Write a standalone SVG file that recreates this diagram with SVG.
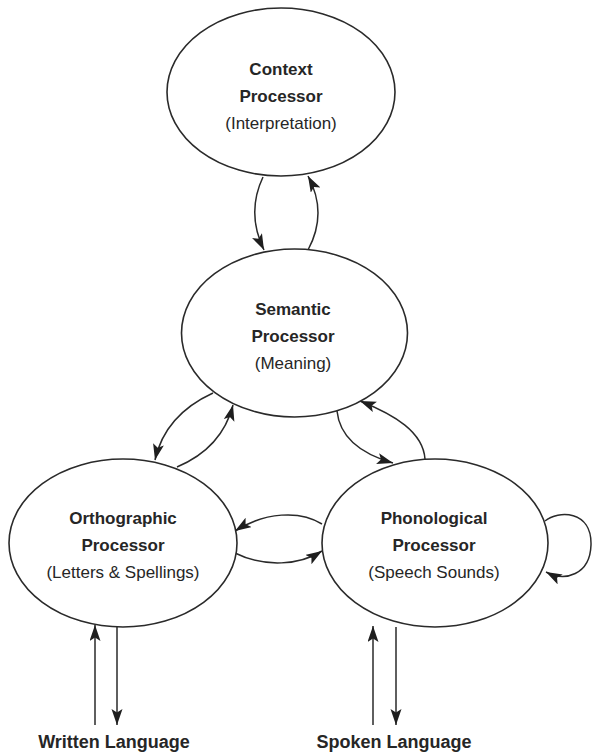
<svg xmlns="http://www.w3.org/2000/svg" width="592" height="756" viewBox="0 0 592 756">
<style>
.node{fill:#fff;stroke:#2a2a2a;stroke-width:1.6}
.t{font-family:"Liberation Sans",Arial,sans-serif;font-size:17px;fill:#262626;text-anchor:middle}
.b{font-weight:bold}
.lbl{font-family:"Liberation Sans",Arial,sans-serif;font-size:18px;font-weight:bold;fill:#262626;text-anchor:middle}
.c{fill:none;stroke:#2a2a2a;stroke-width:1.5;marker-end:url(#ah)}
</style>
<defs>
<marker id="ah" markerUnits="userSpaceOnUse" markerWidth="18" markerHeight="12" refX="16" refY="5.5" orient="auto">
<path d="M0,0 L16,5.5 L0,11 L3.5,5.5 z" fill="#1e1e1e"/>
</marker>
</defs>
<rect width="592" height="756" fill="#fff"/>
<g id="connectors">
<path class="c" d="M263,177 Q246,213 264,250"/>
<path class="c" d="M308,250 Q328,213 308,176"/>
<path class="c" d="M213,393 Q165,415 155,460"/>
<path class="c" d="M177,467 Q222,448 233,405"/>
<path class="c" d="M337,411 C340,440 365,455 393,463"/>
<path class="c" d="M425,459 C423,432 395,415 360,401"/>
<path class="c" d="M322,524 C300,510 265,512 235,531"/>
<path class="c" d="M235,553 C265,568 300,565 322,551"/>
<path class="c" d="M545,521 C558,510 592,510 591,545 C590,575 565,582 546,572"/>
<path class="c" d="M95,725 L95,625"/>
<path class="c" d="M117,627 L117,725"/>
<path class="c" d="M373,725 L373,626"/>
<path class="c" d="M396,627 L396,725"/>
</g>
<g id="context">
<ellipse class="node" cx="281" cy="92" rx="114" ry="84"/>
<text class="t b" x="281" y="75">Context</text>
<text class="t b" x="281" y="102">Processor</text>
<text class="t" x="281" y="129">(Interpretation)</text>
</g>
<g id="semantic">
<ellipse class="node" cx="294.5" cy="333" rx="113" ry="84"/>
<text class="t b" x="293" y="315">Semantic</text>
<text class="t b" x="293" y="342">Processor</text>
<text class="t" x="293" y="369">(Meaning)</text>
</g>
<g id="orthographic">
<ellipse class="node" cx="123" cy="543" rx="114" ry="84"/>
<text class="t b" x="123" y="524">Orthographic</text>
<text class="t b" x="123" y="551">Processor</text>
<text class="t" x="123" y="578">(Letters &amp; Spellings)</text>
</g>
<g id="phonological">
<ellipse class="node" cx="435" cy="543" rx="113" ry="84"/>
<text class="t b" x="434" y="524">Phonological</text>
<text class="t b" x="434" y="551">Processor</text>
<text class="t" x="434" y="578">(Speech Sounds)</text>
</g>
<g id="written">
<text class="lbl" x="114" y="748">Written Language</text>
</g>
<g id="spoken">
<text class="lbl" x="394" y="748">Spoken Language</text>
</g>
</svg>
